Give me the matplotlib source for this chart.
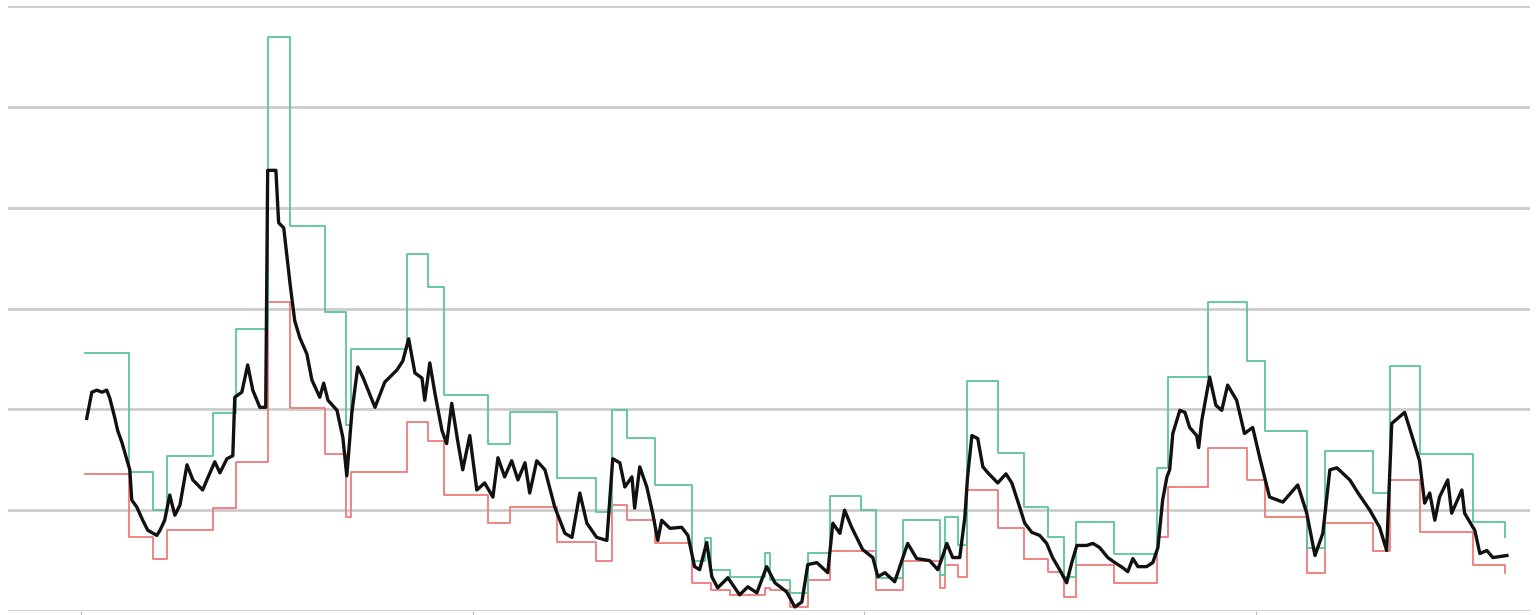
import numpy as np
import matplotlib
matplotlib.use("Agg")
import matplotlib.pyplot as plt

# daily reading (time, value)
t_line = [1.5, 2.8, 4.1, 5.4, 6.6, 7.4, 8.7, 9.4, 10.5, 11.7,
          12.5, 13.0, 14.3, 15.8, 17.1, 19.4, 20.2, 21.4, 22.7, 24.0,
          25.3, 27.1, 28.6, 31.1, 32.4, 34.2, 35.5, 37.3, 38.8, 39.3,
          41.1, 42.6, 43.9, 45.7, 47.2, 47.7, 49.8, 50.5, 51.8, 53.4,
          54.6, 55.9, 57.7, 59.0, 61.0, 62.0, 63.1, 65.4, 66.9, 67.9,
          69.2, 70.7, 72.0, 75.1, 77.6, 80.7, 82.2, 83.7, 85.3, 87.1,
          87.8, 89.1, 90.4, 92.2, 93.4, 94.7, 96.2, 97.5, 99.3, 101.1,
          103.1, 105.2, 106.5, 108.2, 110.0, 111.6, 113.4, 114.6, 116.4, 118.5,
          121.0, 123.6, 125.4, 127.4, 129.2, 131.7, 134.3, 135.8, 137.6, 138.9,
          140.7, 141.4, 142.7, 144.5, 146.0, 147.3, 148.3, 150.4, 153.4, 155.0,
          156.7, 158.0, 159.8, 161.1, 162.6, 165.2, 168.2, 170.3, 172.6, 175.1,
          177.2, 180.2, 182.3, 184.1, 185.6, 187.9, 190.7, 192.0, 193.8, 195.0,
          196.8, 199.6, 202.2, 203.5, 205.3, 207.8, 209.9, 211.1, 213.4, 216.7,
          218.8, 220.1, 221.1, 222.6, 224.4, 225.7, 226.4, 227.5, 229.0, 230.3,
          231.6, 234.1, 236.2, 237.7, 239.7, 241.0, 242.8, 244.8, 246.6, 248.1,
          249.9, 251.7, 253.0, 254.3, 256.8, 258.4, 260.1, 262.2, 264.0, 266.0,
          267.3, 268.6, 269.9, 272.1, 273.7, 275.0, 276.2, 277.3, 278.0, 278.8,
          280.6, 281.9, 283.1, 284.9, 285.4, 286.2, 288.2, 289.8, 291.3, 292.8,
          295.1, 297.1, 299.2, 301.0, 303.5, 306.9, 310.7, 313.0, 315.1, 317.1,
          318.9, 320.7, 324.0, 326.1, 329.1, 331.6, 333.4, 334.7, 338.0, 340.0,
          341.8, 343.1, 344.4, 345.7, 346.9, 349.0, 350.0, 352.6, 353.3, 355.9,
          357.2, 359.0, 360.5, 364.1]
v_line = [19.1, 21.7, 21.9, 21.7, 21.9, 21.1, 19.1, 17.9, 16.7, 15.1,
          14.0, 11.0, 10.3, 9.0, 8.0, 7.5, 8.0, 9.0, 11.5, 9.5,
          10.5, 14.5, 13.0, 12.0, 13.2, 14.8, 13.7, 15.1, 15.4, 21.2,
          21.7, 24.4, 21.9, 20.2, 20.2, 43.7, 43.7, 38.5, 38.0, 32.5,
          28.8, 27.1, 25.5, 22.9, 21.2, 22.6, 20.9, 19.9, 17.2, 13.4,
          19.7, 24.2, 23.2, 20.2, 22.7, 23.9, 24.8, 27.0, 23.6, 23.1,
          20.9, 24.6, 21.6, 17.9, 16.6, 20.6, 16.9, 14.0, 17.4, 12.0,
          12.7, 11.3, 15.2, 13.3, 14.9, 13.0, 14.7, 11.7, 14.9, 14.0,
          10.3, 7.7, 7.3, 11.7, 8.7, 7.3, 7.0, 15.1, 14.7, 12.3,
          13.3, 10.2, 14.3, 12.3, 9.7, 7.0, 9.0, 8.2, 8.3, 7.5,
          4.4, 4.1, 6.8, 3.4, 2.3, 3.3, 1.6, 2.4, 1.8, 4.4,
          2.8, 1.9, 0.4, 0.9, 4.6, 4.8, 3.8, 8.7, 7.7, 10.0,
          8.3, 6.1, 5.3, 3.4, 3.8, 2.9, 5.3, 6.7, 5.2, 5.0,
          4.1, 5.5, 6.7, 5.3, 5.3, 9.3, 13.3, 17.4, 17.1, 14.3,
          13.7, 12.7, 13.6, 12.7, 10.3, 8.7, 7.8, 7.5, 6.7, 5.3,
          4.1, 2.8, 4.8, 6.5, 6.5, 6.7, 6.3, 5.3, 4.8, 4.3,
          3.9, 5.2, 4.4, 4.4, 4.8, 6.3, 11.0, 13.3, 14.0, 17.6,
          19.9, 19.7, 18.2, 17.4, 16.2, 18.9, 23.2, 20.4, 19.9, 22.4,
          20.9, 17.6, 18.2, 15.2, 11.3, 10.8, 12.5, 9.7, 5.5, 7.7,
          14.0, 14.2, 13.0, 11.7, 10.0, 8.3, 6.0, 18.6, 19.7, 17.2,
          14.9, 10.7, 11.7, 9.0, 11.3, 13.0, 9.7, 12.0, 9.7, 8.0,
          5.7, 6.0, 5.3, 5.5]

# period boundaries with upper / lower band per period
t_band = [1.0, 12.3, 18.4, 22.0, 33.7, 39.6, 47.7, 53.4, 62.3, 67.7,
          68.9, 83.2, 88.6, 92.7, 103.9, 109.5, 121.5, 131.5, 135.6, 139.4,
          146.5, 156.0, 159.3, 160.8, 165.7, 174.6, 175.9, 181.0, 185.6, 191.2,
          199.1, 203.0, 209.9, 219.3, 220.6, 223.9, 226.2, 234.1, 240.7, 246.9,
          251.0, 254.0, 263.7, 274.7, 277.5, 287.7, 297.7, 302.3, 313.0, 317.6,
          329.8, 334.2, 341.8, 355.4, 363.6]
upper = [25.6, 13.8, 10.0, 15.4, 19.6, 28.0, 56.9, 38.2, 29.7, 18.4,
         26.0, 35.4, 32.1, 21.4, 16.6, 19.7, 13.2, 9.8, 19.9, 17.2,
         12.5, 5.0, 7.2, 4.1, 3.4, 5.8, 3.1, 1.8, 5.8, 11.4,
         10.0, 3.3, 9.0, 3.6, 9.3, 6.5, 22.8, 15.7, 10.3, 7.3,
         3.4, 8.8, 5.7, 14.2, 23.2, 30.6, 24.8, 17.9, 6.2, 15.9,
         11.7, 24.3, 15.6, 8.8, 7.3]
lower = [13.6, 7.3, 5.2, 8.0, 10.2, 14.8, 30.6, 20.1, 15.6, 9.3,
         13.8, 18.7, 16.9, 11.5, 8.7, 10.3, 6.8, 5.0, 10.5, 9.0,
         6.7, 2.8, 2.8, 2.1, 1.6, 2.3, 2.1, 0.4, 3.1, 6.0,
         6.0, 2.1, 5.0, 2.3, 4.6, 3.4, 12.0, 8.2, 5.2, 3.9,
         1.4, 4.6, 2.8, 7.3, 12.3, 16.2, 13.0, 9.3, 3.8, 8.7,
         6.0, 13.0, 7.8, 4.6, 3.8]

fig = plt.figure(figsize=(15.37, 6.15), dpi=100)
ax = fig.add_axes([8 / 1537, 4 / 615, 1522 / 1537, 605 / 615])

ax.step(t_band, lower, where="post", color="#f07a7a", linewidth=1.3, zorder=2)
ax.step(t_band, upper, where="post", color="#5cc595", linewidth=1.3, zorder=3)
ax.plot(t_line, v_line, color="#111111", linewidth=2.4, zorder=4)

ax.set_xlim(-18.6, 370)
ax.set_ylim(0, 60)
ax.set_yticks(np.arange(0, 61, 10))
ax.set_xticks([0, 100, 200, 300])
ax.grid(axis="y", color="#cccccc", linewidth=2.0, zorder=0)
ax.tick_params(axis="x", length=4, color="#bbbbbb", labelbottom=False)
ax.tick_params(axis="y", length=0, labelleft=False)
for s in ax.spines.values():
    s.set_visible(False)
ax.set_axisbelow(True)

fig.savefig("out.png", dpi=100)
